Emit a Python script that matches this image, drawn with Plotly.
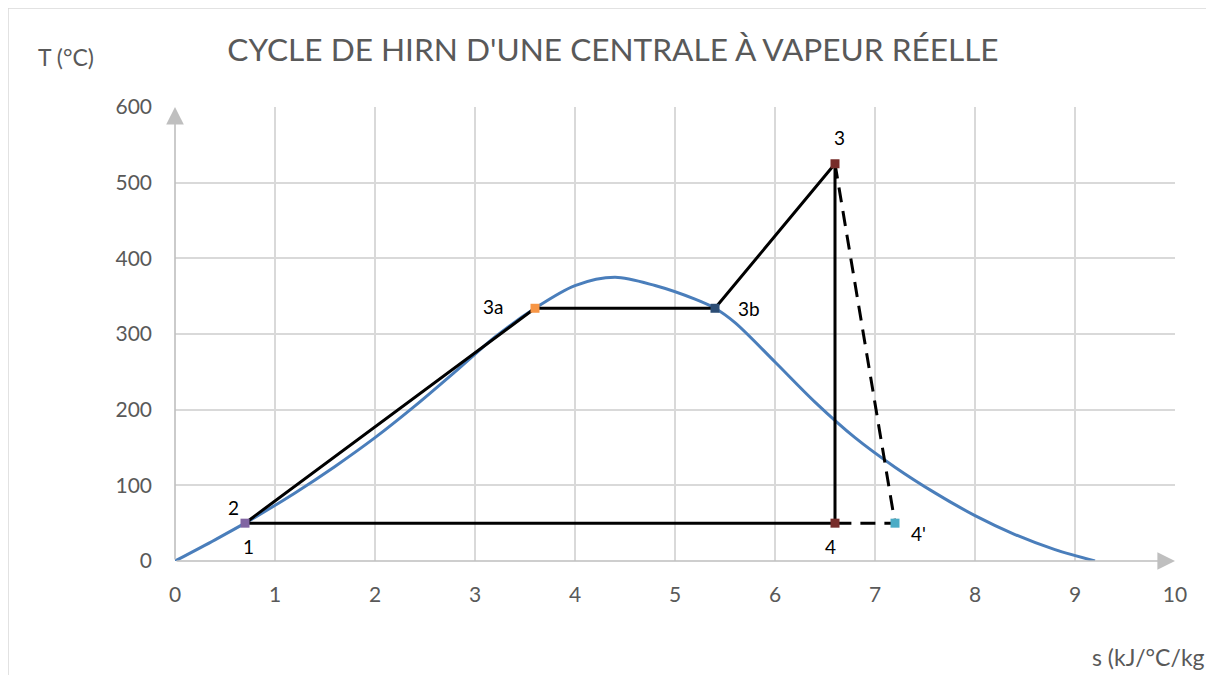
import plotly.graph_objects as go

# Saturation curve
sat_s = [0, 0.4, 0.7, 1.2, 1.6, 2.0, 2.4, 2.8, 3.2, 3.6, 4.0, 4.4, 4.8, 5.2, 5.4, 5.6, 6.0, 6.4, 6.8, 7.2, 7.6, 8.0, 8.4, 8.8, 9.2]
sat_T = [0, 28, 50, 90, 125, 163, 205, 250, 296, 334, 364, 375, 364, 346, 334, 315, 263, 210, 163, 124, 90, 60, 35, 15, 0]

# Cycle points
cyc_s = [0.7, 3.6, 5.4, 6.6, 6.6, 0.7]
cyc_T = [50, 334, 334, 525, 50, 50]

# Real expansion (dashed)
dash_s = [6.6, 7.2, 6.6]
dash_T = [525, 50, 50]

# Markers
pt_names = ["1", "3a", "3b", "3", "4", "4'"]
pt_s = [0.7, 3.6, 5.4, 6.6, 6.6, 7.2]
pt_T = [50, 334, 334, 525, 50, 50]
pt_colors = ["#8064A2", "#F79646", "#2C4D75", "#772C2A", "#772C2A", "#4BACC6"]

x_ticks = list(range(0, 11))
y_ticks = list(range(0, 601, 100))

FONT = "Lato"
OFF = 8  # page body margin offset

fig = go.Figure()
fig.add_trace(go.Scatter(x=sat_s, y=sat_T, mode="lines",
                         line=dict(color="#4A7EBB", width=3, shape="spline", smoothing=0.9),
                         hoverinfo="skip", showlegend=False))
fig.add_trace(go.Scatter(x=cyc_s, y=cyc_T, mode="lines",
                         line=dict(color="black", width=3), showlegend=False))
fig.add_trace(go.Scatter(x=dash_s, y=dash_T, mode="lines",
                         line=dict(color="black", width=3, dash="15px,9px"), showlegend=False))
fig.add_trace(go.Scatter(x=pt_s, y=pt_T, mode="markers",
                         marker=dict(symbol="square", size=9, color=pt_colors),
                         showlegend=False))

# point labels
labels = [
    ("2", 0.7, 50, -12, -16),
    ("1", 0.7, 50, 3, 23),
    ("3a", 3.6, 334, -42, -2),
    ("3b", 5.4, 334, 34, 0),
    ("3", 6.6, 525, 4, -26),
    ("4", 6.6, 50, -5, 23),
    ("4'", 7.2, 50, 23, 10),
]
for txt, x, y, dx, dy in labels:
    fig.add_annotation(x=x, y=y, text=txt, showarrow=False, xshift=dx, yshift=-dy,
                       font=dict(family=FONT, size=19, color="black"))

# axis arrows
fig.add_annotation(x=0, y=600, ax=0, ay=0, xref="x", yref="y", axref="x", ayref="y",
                   showarrow=True, arrowhead=2, arrowsize=2.2, arrowwidth=1.6,
                   arrowcolor="#BFBFBF", text="")
fig.add_annotation(x=10, y=0, ax=0, ay=0, xref="x", yref="y", axref="x", ayref="y",
                   showarrow=True, arrowhead=2, arrowsize=2.2, arrowwidth=1.6,
                   arrowcolor="#BFBFBF", text="")

# axis titles
fig.add_annotation(xref="x domain", yref="y domain", x=(66 - 175) / 1000, y=(561 - 57) / 454,
                   xanchor="center", yanchor="middle", text="T (°C)", showarrow=False,
                   font=dict(family=FONT, size=23, color="#595959"))
fig.add_annotation(xref="x domain", yref="y domain", x=(1148 - 175) / 1000, y=(561 - 657) / 454,
                   xanchor="center", yanchor="middle", text="s (kJ/°C/kg", showarrow=False,
                   font=dict(family=FONT, size=23, color="#595959"))

# chart border
fig.add_shape(type="rect", xref="paper", yref="paper",
              x0=(8 - 175) / 1000, x1=(1240 - 175) / 1000,
              y0=(561 - 720) / 454, y1=(561 - 8) / 454,
              line=dict(color="#D9D9D9", width=1.5), layer="below")

W, H = 1214 - OFF, 675 - OFF
fig.update_layout(
    width=W, height=H,
    margin=dict(l=175 - OFF, r=W - (1175 - OFF), t=107 - OFF, b=H - (561 - OFF)),
    paper_bgcolor="white", plot_bgcolor="white",
    title=dict(text="CYCLE DE HIRN D'UNE CENTRALE À VAPEUR RÉELLE",
               x=(613 - OFF) / W, xanchor="center", y=1 - (50 - OFF) / H, yanchor="middle",
               font=dict(family=FONT, size=31.6, color="#595959")),
    font=dict(family=FONT),
)
fig.update_xaxes(range=[0, 10], tickvals=x_ticks, showgrid=True, gridcolor="#D9D9D9", gridwidth=1.5,
                 zeroline=False, showline=False, ticks="",
                 tickfont=dict(family=FONT, size=21, color="#595959"), ticklabelstandoff=19)
fig.update_yaxes(range=[0, 600], tickvals=y_ticks, showgrid=True, gridcolor="#D9D9D9", gridwidth=1.5,
                 zeroline=False, showline=False, ticks="",
                 tickfont=dict(family=FONT, size=21, color="#595959"), ticklabelstandoff=22)

fig.write_html("out.html")
